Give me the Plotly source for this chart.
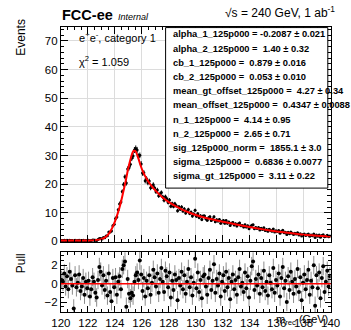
import numpy as np
import plotly.graph_objects as go

W, H = 351, 330

# ---------------- data ----------------
mass_lo, mass_hi, n_bins = 120.0, 140.0, 200
bin_centers = np.round(np.linspace(mass_lo + 0.05, mass_hi - 0.05, n_bins), 3)

events = [
    0.34, 0.32, 0.41, 0.27, 0.38, 0.24, 0.43, 0.35, 0.28, 0.03,
    0.39, 0.27, 0.32, 0.42, 0.24, 0.30, 0.39, 0.21, 0.36, 0.30,
    0.39, 0.21, 0.33, 0.51, 0.49, 0.37, 0.35, 0.69, 0.99, 1.00,
    0.86, 1.33, 1.29, 1.93, 1.97, 3.30, 3.29, 3.61, 5.46, 6.01,
    7.96, 8.52, 11.02, 13.03, 13.78, 17.40, 19.90, 22.54, 20.38, 25.27,
    25.73, 26.90, 29.07, 29.85, 31.91, 32.45, 31.95, 29.70, 30.05, 27.06,
    23.86, 23.94, 21.15, 21.86, 20.47, 21.06, 18.70, 19.18, 19.82, 18.66,
    17.37, 17.95, 15.94, 16.58, 17.06, 15.55, 14.35, 15.61, 14.87, 13.62,
    14.43, 12.28, 13.20, 12.23, 13.16, 12.46, 10.73, 12.08, 11.27, 12.02,
    10.63, 11.35, 9.93, 10.52, 11.16, 9.76, 10.21, 8.85, 9.56, 10.84,
    8.82, 9.67, 8.31, 8.92, 7.62, 8.83, 8.84, 7.94, 7.36, 8.22,
    8.58, 7.34, 7.76, 8.57, 6.89, 7.56, 7.10, 7.65, 6.31, 7.00,
    7.29, 6.36, 7.27, 6.36, 6.74, 5.55, 6.34, 6.61, 5.77, 6.13,
    5.36, 6.12, 6.42, 5.47, 5.54, 5.01, 5.82, 5.04, 5.49, 4.42,
    5.13, 5.68, 5.78, 4.46, 4.85, 4.52, 4.90, 4.02, 4.58, 4.14,
    4.73, 3.85, 4.13, 3.52, 4.23, 3.89, 3.58, 4.31, 3.29, 3.69,
    3.43, 3.84, 2.87, 3.50, 3.86, 2.99, 3.20, 2.39, 3.21, 2.68,
    3.27, 2.86, 2.41, 2.86, 2.56, 3.03, 2.23, 2.65, 1.88, 2.38,
    2.58, 2.10, 2.35, 2.62, 1.83, 2.22, 1.99, 2.61, 1.39, 2.23,
    1.84, 2.25, 1.49, 2.04, 2.33, 1.60, 1.84, 2.11, 1.66, 1.89,
]

events_err = [
    0.10, 0.10, 0.10, 0.10, 0.10, 0.10, 0.10, 0.10, 0.10, 0.10,
    0.10, 0.10, 0.10, 0.10, 0.10, 0.11, 0.11, 0.11, 0.11, 0.11,
    0.11, 0.12, 0.12, 0.12, 0.13, 0.13, 0.14, 0.15, 0.16, 0.17,
    0.18, 0.20, 0.23, 0.25, 0.29, 0.32, 0.35, 0.39, 0.43, 0.47,
    0.52, 0.57, 0.62, 0.66, 0.70, 0.75, 0.80, 0.85, 0.89, 0.93,
    0.97, 1.00, 1.03, 1.04, 1.05, 1.05, 1.04, 1.01, 0.98, 0.96,
    0.93, 0.90, 0.89, 0.87, 0.86, 0.84, 0.83, 0.82, 0.81, 0.80,
    0.78, 0.77, 0.76, 0.75, 0.74, 0.73, 0.72, 0.72, 0.71, 0.70,
    0.69, 0.68, 0.67, 0.67, 0.66, 0.65, 0.65, 0.64, 0.63, 0.63,
    0.62, 0.61, 0.61, 0.60, 0.60, 0.59, 0.59, 0.58, 0.58, 0.57,
    0.56, 0.56, 0.55, 0.55, 0.55, 0.54, 0.54, 0.53, 0.53, 0.53,
    0.52, 0.52, 0.52, 0.51, 0.51, 0.51, 0.50, 0.50, 0.49, 0.49,
    0.49, 0.49, 0.48, 0.48, 0.48, 0.47, 0.47, 0.46, 0.46, 0.46,
    0.45, 0.45, 0.45, 0.44, 0.44, 0.43, 0.43, 0.43, 0.42, 0.42,
    0.42, 0.41, 0.41, 0.41, 0.40, 0.40, 0.40, 0.39, 0.39, 0.39,
    0.38, 0.38, 0.38, 0.37, 0.37, 0.37, 0.36, 0.36, 0.36, 0.35,
    0.35, 0.35, 0.34, 0.34, 0.34, 0.33, 0.33, 0.33, 0.32, 0.32,
    0.32, 0.31, 0.31, 0.31, 0.30, 0.30, 0.30, 0.29, 0.29, 0.29,
    0.28, 0.28, 0.28, 0.28, 0.28, 0.27, 0.27, 0.27, 0.27, 0.26,
    0.26, 0.26, 0.26, 0.26, 0.25, 0.25, 0.25, 0.25, 0.25, 0.24,
]

pulls = [
    0.4, 0.2, 1.1, -0.3, 0.8, -0.6, 1.3, 0.5, -0.2, -2.7,
    0.9, -0.4, 0.1, 1.0, -0.8, -0.3, 0.6, -1.2, 0.2, -0.5,
    0.3, -1.4, -0.6, 0.7, 0.2, -1.0, -1.5, 0.4, 1.8, 1.3,
    -0.2, 0.9, -0.7, 0.3, -1.3, 1.1, -0.9, -1.9, 0.6, -0.4,
    0.7, -1.2, 0.2, 0.8, -0.6, 1.6, 2.0, 2.4, -2.5, 0.5,
    -1.1, -1.6, -1.0, -1.3, 0.2, 0.9, 1.2, 0.4, 2.5, 1.0,
    -0.8, 0.6, -1.4, 0.3, -0.5, 0.9, -1.2, 0.1, 1.5, 0.7,
    -0.3, 1.1, -1.0, 0.5, 1.7, 0.2, -0.9, 1.4, 0.8, -0.4,
    1.2, -1.5, 0.3, -0.7, 1.0, 0.4, -1.8, 0.6, -0.2, 1.3,
    -0.6, 0.9, -1.1, 0.2, 1.6, -0.4, 0.7, -1.3, 0.1, 2.7,
    -0.5, 1.2, -0.9, 0.4, -1.6, 0.8, 1.0, -0.3, -1.2, 0.6,
    1.5, -0.7, 0.3, 2.1, -1.0, 0.5, -0.2, 1.1, -1.4, 0.2,
    0.9, -0.8, 1.3, -0.4, 0.6, -1.7, 0.2, 1.0, -0.6, 0.4,
    -1.2, 0.7, 1.6, -0.3, 0.1, -0.9, 1.2, -0.5, 0.8, -1.5,
    0.3, 1.9, 2.4, -0.7, 0.5, -0.2, 1.0, -1.1, 0.6, -0.4,
    1.4, -0.8, 0.2, -1.3, 0.9, 0.1, -0.6, 1.7, -1.0, 0.4,
    -0.2, 1.1, -1.4, 0.6, 1.8, -0.5, 0.3, -2.0, 0.8, -0.7,
    1.3, 0.2, -1.1, 0.5, -0.3, 1.6, -0.9, 0.7, -1.8, 0.1,
    1.0, -0.6, 0.4, 1.5, -1.2, 0.3, -0.4, 2.0, -2.4, 0.9,
    -0.5, 1.2, -1.6, 0.6, 1.9, -0.9, 0.2, 1.4, -0.3, 0.8,
]

fit_mass = [120.0, 121.0, 122.0, 122.5, 123.0, 123.3, 123.6, 123.9, 124.2, 124.4,
            124.6, 124.8, 125.0, 125.2, 125.3, 125.4, 125.5, 125.6, 125.75, 125.9,
            126.1, 126.3, 126.6, 127.0, 127.5, 128.0, 128.5, 129.0, 129.5, 130.0,
            130.5, 131.0, 132.0, 133.0, 134.0, 135.0, 136.0, 137.0, 138.0, 139.0, 140.0]
fit_events = [0.30, 0.30, 0.35, 0.45, 0.80, 1.50, 3.00, 5.70, 9.60, 12.80,
              16.80, 21.00, 25.70, 29.40, 30.90, 31.65, 31.60, 30.90, 28.90, 26.60,
              24.20, 22.30, 20.10, 17.80, 15.50, 13.70, 12.30, 11.10, 10.10, 9.20,
              8.50, 7.90, 6.90, 5.90, 5.00, 4.20, 3.50, 2.90, 2.35, 2.00, 1.70]

param_lines = [
    "alpha_1_125p000 = -0.2087 ± 0.021",
    "alpha_2_125p000 =  1.40 ± 0.32",
    "cb_1_125p000 =  0.879 ± 0.016",
    "cb_2_125p000 =  0.053 ± 0.010",
    "mean_gt_offset_125p000 =  4.27 ± 0.34",
    "mean_offset_125p000 =  0.4347 ± 0.0088",
    "n_1_125p000 =  4.14 ± 0.95",
    "n_2_125p000 =  2.65 ± 0.71",
    "sig_125p000_norm =  1855.1 ± 3.0",
    "sigma_125p000 =  0.6836 ± 0.0077",
    "sigma_gt_125p000 =  3.11 ± 0.22",
]

# ---------------- geometry helpers ----------------
def fx(p):
    return p / W


def fy(p):
    return 1 - p / H


X0, X1 = 54, 340
MAIN_TOP, MAIN_BOT = 27, 246
PULL_TOP, PULL_BOT = 256, 317
FONT = "Liberation Sans, Arial, sans-serif"

fig = go.Figure()

fig.add_trace(go.Scatter(
    x=bin_centers, y=events, mode="markers",
    marker=dict(color="black", size=3),
    error_y=dict(type="data", array=events_err, color="black", thickness=1, width=0),
    xaxis="x", yaxis="y", showlegend=False,
))
fig.add_trace(go.Scatter(
    x=fit_mass, y=fit_events, mode="lines",
    line=dict(color="#ff0000", width=2, shape="spline", smoothing=0.8),
    xaxis="x", yaxis="y", showlegend=False,
))
fig.add_trace(go.Scatter(
    x=bin_centers, y=pulls, mode="markers",
    marker=dict(color="black", size=4),
    error_y=dict(type="constant", value=1.0, color="#8c8c8c", thickness=1, width=0),
    xaxis="x2", yaxis="y2", showlegend=False,
))

axis_common = dict(
    showline=True, linecolor="black", linewidth=1, mirror="allticks",
    ticks="inside", tickcolor="black", zeroline=False,
    tickfont=dict(family=FONT, size=11.5, color="black"),
)

fig.update_layout(
    width=W, height=H,
    margin=dict(l=0, r=0, t=0, b=0),
    paper_bgcolor="white", plot_bgcolor="white",
    showlegend=False,
    xaxis=dict(domain=[fx(X0), fx(X1)], range=[mass_lo, mass_hi], anchor="y",
               dtick=2, ticklen=7, showticklabels=False,
               showgrid=True, gridcolor="#dcdcdc", gridwidth=1,
               minor=dict(dtick=0.5, ticklen=3.5, ticks="inside", tickcolor="black", showgrid=False),
               **axis_common),
    yaxis=dict(domain=[fy(MAIN_BOT), fy(MAIN_TOP)], range=[-0.3, 75], anchor="x",
               dtick=10, ticklen=7, showgrid=True, gridcolor="#dcdcdc", gridwidth=1,
               minor=dict(dtick=2, ticklen=3.5, ticks="inside", tickcolor="black", showgrid=False),
               **axis_common),
    xaxis2=dict(domain=[fx(X0), fx(X1)], range=[mass_lo, mass_hi], anchor="y2",
                dtick=2, ticklen=6, showticklabels=True, showgrid=False,
                minor=dict(dtick=0.5, ticklen=3, ticks="inside", tickcolor="black", showgrid=False),
                **axis_common),
    yaxis2=dict(domain=[fy(PULL_BOT), fy(PULL_TOP)], range=[-3.1, 3.42], anchor="x2",
                tickvals=[-2, 0, 2], ticklen=6, showgrid=False,
                minor=dict(dtick=0.5, ticklen=3, ticks="inside", tickcolor="black", showgrid=False),
                **axis_common),
)

shapes = [
    # parameter box
    dict(type="rect", xref="paper", yref="paper",
         x0=fx(165), x1=fx(337), y0=fy(191), y1=fy(28),
         line=dict(color="black", width=1), fillcolor="white", layer="above"),
    # zero line in pull panel
    dict(type="line", xref="x2 domain", yref="y2", x0=0, x1=1, y0=0, y1=0,
         line=dict(color="#ff0000", width=1.5), layer="above"),
]
fig.update_layout(shapes=shapes)

ann = []


def add_text(text, x, y, size, xanchor="left", yanchor="middle", angle=0, color="black"):
    ann.append(dict(text=text, x=fx(x), y=fy(y), xref="paper", yref="paper",
                    xanchor=xanchor, yanchor=yanchor, showarrow=False, textangle=angle,
                    font=dict(family=FONT, size=size, color=color)))


add_text("<b>FCC-ee</b>", 53, 15, 14.5)
add_text("<i>Internal</i>", 112, 17, 9)
add_text("√s = 240 GeV, 1 ab<sup>-1</sup>", 347, 12, 12, xanchor="right")
add_text("Events", 12, 38, 12, xanchor="center", angle=-90)
add_text("Pull", 12, 267, 12, xanchor="center", angle=-90)
add_text("e<sup>+</sup>e<sup>-</sup>, category 1", 71, 38, 11)
add_text("χ<sup>2</sup> = 1.059", 71, 62, 11)
add_text("m<sub>rec</sub> (GeV)", 339, 325, 11, xanchor="right")

for i, line in enumerate(param_lines):
    add_text("<b>" + line + "</b>", 171, 35 + 14.4 * i, 9.3)

fig.update_layout(annotations=ann)

fig.write_html("out.html")
